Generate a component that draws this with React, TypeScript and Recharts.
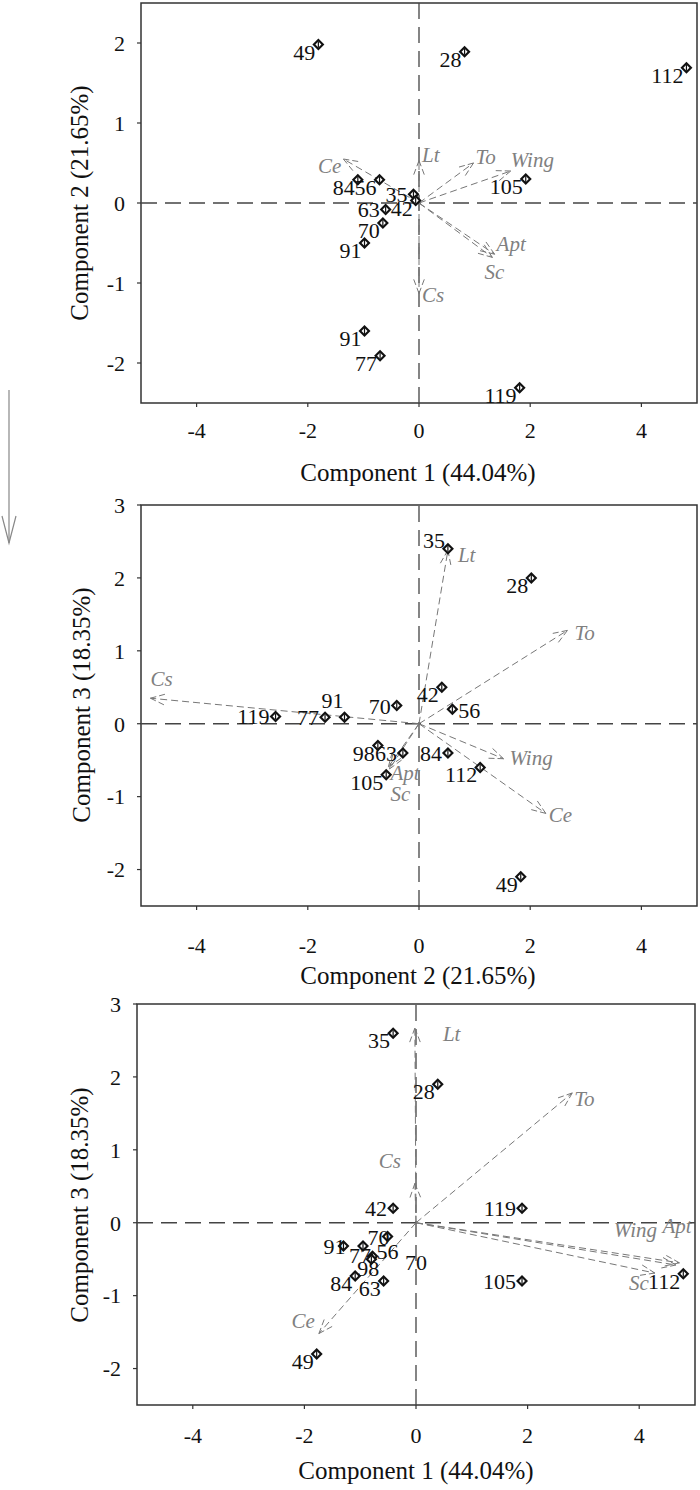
import React from 'react'
import {
  ScatterChart,
  Scatter,
  XAxis,
  YAxis,
  ReferenceLine,
  ReferenceArea
} from 'recharts'

const serif = '"Liberation Serif", "Times New Roman", serif'

// panel 1: component 1 (x) vs component 2 (y)
const p1Ids = ['49', '28', '112', '84', '56', '35', '42', '63', '70', '91', '105', '91', '77', '119']
const p1X = [-1.81, 0.82, 4.81, -1.1, -0.71, -0.1, -0.06, -0.6, -0.65, -0.98, 1.92, -0.98, -0.7, 1.81]
const p1Y = [1.98, 1.89, 1.69, 0.29, 0.29, 0.11, 0.03, -0.08, -0.25, -0.5, 0.3, -1.6, -1.91, -2.31]
const p1Vars = ['Lt', 'To', 'Wing', 'Ce', 'Apt', 'Sc', 'Cs']
const p1VarX = [0, 0.98, 1.65, -1.36, 1.36, 1.32, 0]
const p1VarY = [0.53, 0.5, 0.4, 0.55, -0.64, -0.68, -1.13]

// panel 2: component 2 (x) vs component 3 (y)
const p2Ids = ['35', '28', '42', '56', '70', '91', '77', '119', '98', '63', '105', '84', '112', '49']
const p2X = [0.52, 2.02, 0.41, 0.6, -0.4, -1.34, -1.69, -2.58, -0.74, -0.29, -0.59, 0.52, 1.1, 1.83]
const p2Y = [2.4, 2.0, 0.5, 0.2, 0.25, 0.09, 0.09, 0.1, -0.3, -0.4, -0.7, -0.4, -0.6, -2.1]
const p2Vars = ['Lt', 'To', 'Cs', 'Wing', 'Ce', 'Apt', 'Sc']
const p2VarX = [0.52, 2.67, -4.83, 1.52, 2.28, -0.55, -0.53]
const p2VarY = [2.38, 1.28, 0.35, -0.48, -1.23, -0.59, -0.62]

// panel 3: component 1 (x) vs component 3 (y)
const p3Ids = ['35', '28', '42', '119', '70', '91', '77', '56', '98', '84', '63', '105', '112', '49']
const p3X = [-0.41, 0.39, -0.41, 1.9, -0.51, -1.3, -0.95, -0.78, -0.8, -1.09, -0.58, 1.9, 4.79, -1.78]
const p3Y = [2.6, 1.9, 0.2, 0.2, -0.19, -0.32, -0.32, -0.46, -0.5, -0.73, -0.8, -0.8, -0.7, -1.8]
const p3Loose = ['70']
const p3LooseX = [0]
const p3LooseY = [-0.65]
const p3Vars = ['Lt', 'Cs', 'To', 'Wing', 'Apt', 'Sc', 'Ce']
const p3VarX = [-0.02, -0.02, 2.8, 4.66, 4.72, 4.28, -1.74]
const p3VarY = [2.67, 0.54, 1.78, -0.58, -0.55, -0.69, -1.52]

const xTicks = [-4, -2, 0, 2, 4]
const yTicks12 = [-2, -1, 0, 1, 2]
const yTicks3 = [-2, -1, 0, 1, 2, 3]

// label placement (layout only)
const p1Place = ['bl', 'bl', 'bl', 'bl', 'bl', 'l', 'bl', 'l', 'bl', 'bl', 'bl', 'bl', 'bl', 'bl']
const p2Place = ['al', 'bl', 'bl', 'r', 'l', 'a', 'l', 'l', 'bl', 'l', 'bl', 'l', 'bl', 'bl']
const p3Place = ['bl', 'bl', 'l', 'l', 'l0', 'l0', 'b', 'r0', 'b', 'bl', 'bl', 'l', 'bl', 'bl']
const p1VarOff = [[3, 1, 'start'], [2, 1, 'start'], [0, -4, 'start'], [-2, 14, 'end'], [2, -3, 'start'], [-8, 22, 'start'], [3, 9, 'start']]
const p2VarOff = [[10, 12, 'start'], [7, 10, 'start'], [0, -12, 'start'], [6, 6, 'start'], [3, 9, 'start'], [2, 13, 'start'], [1, 32, 'start']]
const p3VarOff = [[28, 13, 'start'], [-14, -15, 'end'], [2, 13, 'start'], [-19, -28, 'end'], [-17, -30, 'start'], [-6, 17, 'end'], [-4, -6, 'end']]

const placeMap: Record<string, [number, number, string]> = {
  bl: [-3, 15, 'end'],
  l: [-6, 8, 'end'],
  l0: [2, 8, 'end'],
  r: [6, 9, 'start'],
  r0: [4, 3, 'start'],
  al: [-3, -1, 'end'],
  a: [-12, -9, 'middle'],
  b: [-3, 17, 'middle']
}

const build = (ids: string[], xs: number[], ys: number[], place: string[]) =>
  ids.map((id, i) => ({ id, x: xs[i], y: ys[i], place: place[i] }))

const buildVars = (names: string[], xs: number[], ys: number[], off: any[]) =>
  names.map((name, i) => ({ name, x: xs[i], y: ys[i], off: off[i] }))

const PointMark = (props: any) => {
  const { cx, cy, payload } = props
  if (cx == null || cy == null) return null
  const [dx, dy, anchor] = placeMap[payload.place] || placeMap.bl
  const s = 6
  const t = 3
  return (
    <g>
      <polygon points={`${cx},${cy - s} ${cx + s},${cy} ${cx},${cy + s} ${cx - s},${cy}`} fill="#111" />
      <polygon points={`${cx},${cy - t} ${cx + t},${cy} ${cx},${cy + t} ${cx - t},${cy}`} fill="#fff" />
      <line x1={cx} y1={cy - t} x2={cx} y2={cy + t} stroke="#111" strokeWidth={1.2} />
      <text x={cx + dx} y={cy + dy} textAnchor={anchor} fontSize={22} fontFamily={serif} fill="#111">
        {payload.id}
      </text>
    </g>
  )
}

const LooseMark = (props: any) => {
  const { cx, cy, payload } = props
  if (cx == null || cy == null) return null
  return (
    <text x={cx} y={cy} textAnchor="middle" fontSize={22} fontFamily={serif} fill="#111">
      {payload.id}
    </text>
  )
}

const Arrow = (props: any) => {
  const { x1, y1, x2, y2, v } = props
  if ([x1, y1, x2, y2].some(n => n == null || isNaN(n))) return null
  const ang = Math.atan2(y2 - y1, x2 - x1)
  const len = 15
  const spread = 0.36
  const ax = x2 - len * Math.cos(ang - spread)
  const ay = y2 - len * Math.sin(ang - spread)
  const bx = x2 - len * Math.cos(ang + spread)
  const by = y2 - len * Math.sin(ang + spread)
  const [dx, dy, anchor] = v.off
  return (
    <g>
      <line x1={x1} y1={y1} x2={x2} y2={y2} stroke="#777" strokeWidth={1} strokeDasharray="7 4" />
      <line x1={ax} y1={ay} x2={x2} y2={y2} stroke="#777" strokeWidth={1} strokeDasharray="6 3" />
      <line x1={bx} y1={by} x2={x2} y2={y2} stroke="#777" strokeWidth={1} strokeDasharray="6 3" />
      <text x={x2 + dx} y={y2 + dy} textAnchor={anchor} fontSize={21} fontStyle="italic" fontFamily={serif} fill="#808080">
        {v.name}
      </text>
    </g>
  )
}

interface PanelProps {
  top: number
  height: number
  margin: { top: number; right: number; bottom: number; left: number }
  yDomain: [number, number]
  yTicks: number[]
  xTickMargin: number
  points: any[]
  vars: any[]
  loose?: any[]
}

const Panel: React.FC<PanelProps> = ({ top, height, margin, yDomain, yTicks, xTickMargin, points, vars, loose }) => {
  const tickStyle = { fill: '#111', fontSize: 22, fontFamily: serif }
  return (
    <div style={{ position: 'absolute', left: 0, top, width: 700, height }}>
      <ScatterChart width={700} height={height} margin={margin}>
        <XAxis
          type="number"
          dataKey="x"
          domain={[-5, 5]}
          ticks={xTicks}
          interval={0}
          allowDataOverflow
          axisLine={false}
          tickSize={4}
          tickMargin={xTickMargin}
          tickLine={{ stroke: '#333', strokeWidth: 1.2 }}
          tick={tickStyle}
          height={30}
        />
        <YAxis
          type="number"
          dataKey="y"
          domain={yDomain}
          ticks={yTicks}
          interval={0}
          allowDataOverflow
          axisLine={false}
          tickSize={4}
          tickMargin={12}
          tickLine={{ stroke: '#333', strokeWidth: 1.2 }}
          tick={tickStyle}
          width={60}
        />
        <ReferenceArea
          x1={-5}
          x2={5}
          y1={yDomain[0]}
          y2={yDomain[1]}
          fill="none"
          stroke="#333"
          strokeWidth={1.5}
        />
        <ReferenceLine x={0} stroke="#444" strokeWidth={1.3} strokeDasharray="16 8" />
        <ReferenceLine y={0} stroke="#444" strokeWidth={1.3} strokeDasharray="16 8" />
        {vars.map((v, i) => (
          <ReferenceLine
            key={`v-${i}`}
            segment={[{ x: 0, y: 0 }, { x: v.x, y: v.y }]}
            shape={(p: any) => <Arrow {...p} v={v} />}
          />
        ))}
        {loose && loose.length > 0 && (
          <Scatter data={loose} shape={(p: any) => <LooseMark {...p} />} isAnimationActive={false} />
        )}
        <Scatter data={points} shape={(p: any) => <PointMark {...p} />} isAnimationActive={false} />
      </ScatterChart>
    </div>
  )
}

const titleStyle: React.CSSProperties = {
  position: 'absolute',
  width: 320,
  height: 26,
  lineHeight: '26px',
  fontSize: 25,
  fontFamily: serif,
  color: '#111',
  textAlign: 'center',
  whiteSpace: 'nowrap'
}

const XTitle = ({ cx, cy, text }: { cx: number; cy: number; text: string }) => (
  <div style={{ ...titleStyle, left: cx - 160, top: cy - 13 }}>{text}</div>
)

const YTitle = ({ cx, cy, text }: { cx: number; cy: number; text: string }) => (
  <div style={{ ...titleStyle, left: cx - 160, top: cy - 13, transform: 'rotate(-90deg)' }}>{text}</div>
)

export default function App() {
  const pts1 = build(p1Ids, p1X, p1Y, p1Place)
  const pts2 = build(p2Ids, p2X, p2Y, p2Place)
  const pts3 = build(p3Ids, p3X, p3Y, p3Place)
  const loose3 = build(p3Loose, p3LooseX, p3LooseY, ['b'])
  const v1 = buildVars(p1Vars, p1VarX, p1VarY, p1VarOff)
  const v2 = buildVars(p2Vars, p2VarX, p2VarY, p2VarOff)
  const v3 = buildVars(p3Vars, p3VarX, p3VarY, p3VarOff)

  return (
    <div style={{ position: 'absolute', left: 0, top: 0, width: 700, height: 1490, background: '#fff', overflow: 'hidden' }}>
      <Panel
        top={0}
        height={500}
        margin={{ top: 3, right: 3, bottom: 67, left: 81 }}
        yDomain={[-2.5, 2.5]}
        yTicks={yTicks12}
        xTickMargin={15}
        points={pts1}
        vars={v1}
      />
      <Panel
        top={490}
        height={510}
        margin={{ top: 15, right: 3, bottom: 64, left: 81 }}
        yDomain={[-2.5, 3]}
        yTicks={yTicks3}
        xTickMargin={27}
        points={pts2}
        vars={v2}
      />
      <Panel
        top={990}
        height={500}
        margin={{ top: 14, right: 5, bottom: 55, left: 77 }}
        yDomain={[-2.5, 3]}
        yTicks={yTicks3}
        xTickMargin={18}
        points={pts3}
        vars={v3}
        loose={loose3}
      />
      <XTitle cx={418} cy={473} text="Component 1 (44.04%)" />
      <YTitle cx={80} cy={203} text="Component 2 (21.65%)" />
      <XTitle cx={418} cy={976} text="Component 2 (21.65%)" />
      <YTitle cx={82} cy={705} text="Component 3 (18.35%)" />
      <XTitle cx={416} cy={1471} text="Component 1 (44.04%)" />
      <YTitle cx={80} cy={1205} text="Component 3 (18.35%)" />
      <svg style={{ position: 'absolute', left: 0, top: 385 }} width={20} height={165}>
        <line x1={9} y1={5} x2={9} y2={158} stroke="#888" strokeWidth={1.2} />
        <polyline points="2,131 9,158 16,131" fill="none" stroke="#888" strokeWidth={1.2} />
      </svg>
    </div>
  )
}
